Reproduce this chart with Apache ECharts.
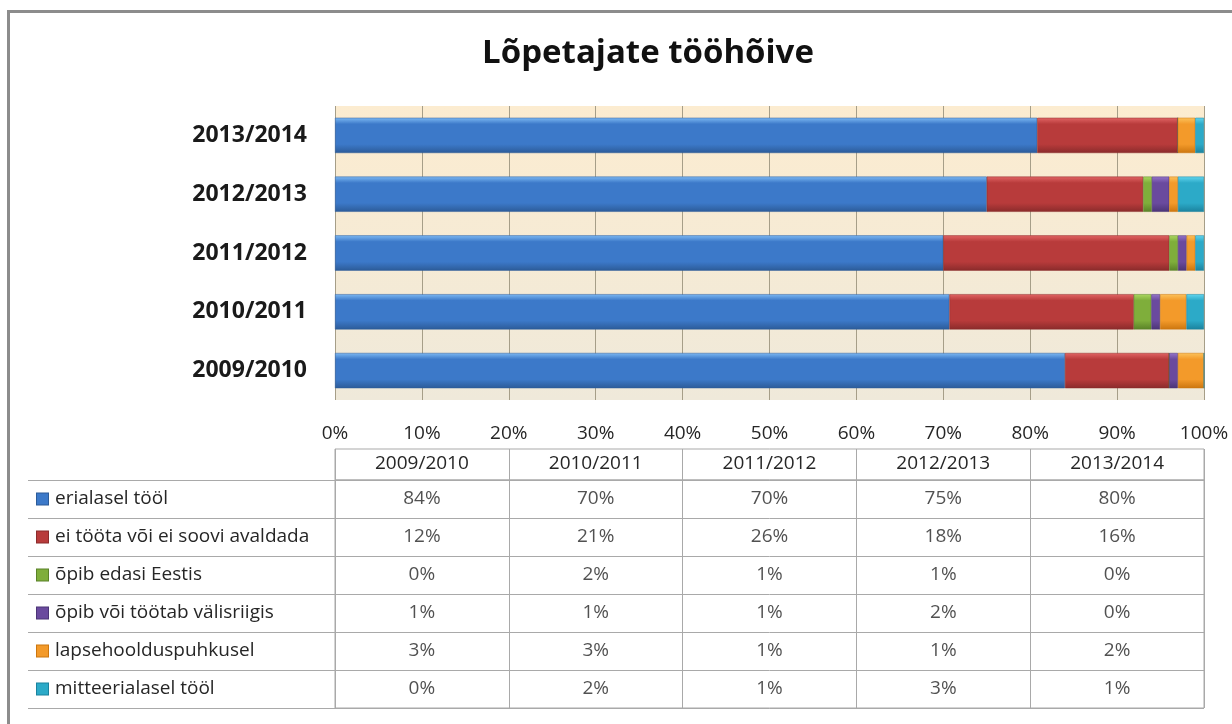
<!DOCTYPE html>
<html>
<head>
<meta charset="utf-8">
<script src="https://cdn.jsdelivr.net/npm/echarts@6/dist/echarts.min.js"></script>
<style>
  html, body { margin: 0; padding: 0; background: #fff; overflow: hidden; }
  #chart { width: 1232px; height: 724px; }
  #frame {
    position: absolute; left: 7px; top: 10px; width: 1300px; height: 800px;
    border-left: 3px solid #8c8c8c; border-top: 3px solid #8c8c8c;
    pointer-events: none;
  }
</style>
</head>
<body>
<div id="chart"></div>
<div id="frame"></div>
<script>
// aastad (kategooriad)
const years = ['2009/2010', '2010/2011', '2011/2012', '2012/2013', '2013/2014'];
const seriesNames = [
  'erialasel tööl',
  'ei tööta või ei soovi avaldada',
  'õpib edasi Eestis',
  'õpib või töötab välisriigis',
  'lapsehoolduspuhkusel',
  'mitteerialasel tööl'
];
// väärtused tabelist, %
const erialasel = [84, 70, 70, 75, 80];
const eiToota = [12, 21, 26, 18, 16];
const opibEestis = [0, 2, 1, 1, 0];
const valisriigis = [1, 1, 1, 2, 0];
const lapsehooldus = [3, 3, 1, 1, 2];
const mitteerialasel = [0, 2, 1, 3, 1];
const allValues = [erialasel, eiToota, opibEestis, valisriigis, lapsehooldus, mitteerialasel];

const tickLabels = ['0%', '10%', '20%', '30%', '40%', '50%', '60%', '70%', '80%', '90%', '100%'];

// värvid: [hele, põhi, tume]
const colors = [
  ['#7db9f3', '#3c79c9', '#2c5b98'],
  ['#e26565', '#b83b3b', '#8a2b2b'],
  ['#acd861', '#7fae3b', '#5a8228'],
  ['#9675ca', '#6a4a9e', '#4b3476'],
  ['#fcc35c', '#f39a2a', '#cc760f'],
  ['#62d6ef', '#2caac8', '#1b829e']
];

const FONT = '"Open Sans", sans-serif';
const lineGray = '#a9a9a9';
const textColor = '#262626';

// 100% virnastus
const totals = years.map((y, i) => allValues.reduce((s, arr) => s + arr[i], 0));

const barGradient = (c) => ({
  type: 'linear', x: 0, y: 0, x2: 0, y2: 1,
  colorStops: [
    { offset: 0, color: c[0] },
    { offset: 0.18, color: c[1] },
    { offset: 0.75, color: c[1] },
    { offset: 1, color: c[2] }
  ]
});

const barSeries = seriesNames.map((name, s) => ({
  name: name,
  type: 'bar',
  stack: 'total',
  xAxisIndex: 0,
  yAxisIndex: 0,
  barWidth: '60%',
  itemStyle: {
    color: barGradient(colors[s]),
    borderColor: colors[s][2],
    borderWidth: 0.5
  },
  data: allValues[s].map((v, i) => v / totals[i] * 100)
}));

const tableData = [];
allValues.forEach((arr, s) => {
  arr.forEach((v, i) => tableData.push([years[i], seriesNames[s], v]));
});

const rich = { t: { fontFamily: FONT, fontSize: 19, color: textColor, padding: [0, 0, 0, 7] } };
colors.forEach((c, i) => {
  rich['sq' + i] = { width: 11, height: 11, backgroundColor: c[1], borderColor: c[2], borderWidth: 1 };
});

const option = {
  backgroundColor: '#fff',
  animation: false,
  title: {
    text: 'Lõpetajate tööhõive',
    left: 648,
    top: 37,
    padding: 0,
    textAlign: 'center',
    textStyle: { fontFamily: FONT, fontSize: 33, fontWeight: 'bold', color: '#111' }
  },
  grid: [
    { // joonis
      left: 335, right: 28, top: 106, height: 294,
      show: true, borderWidth: 0,
      backgroundColor: {
        type: 'linear', x: 0, y: 0, x2: 0, y2: 1,
        colorStops: [
          { offset: 0, color: '#fcecd0' },
          { offset: 1, color: '#efe9da' }
        ]
      }
    },
    { // tabeli sisu
      left: 335, right: 28, top: 480, height: 228,
      show: true, borderColor: lineGray, borderWidth: 1
    },
    { // tabeli päis
      left: 335, right: 28, top: 449, height: 31,
      show: true, borderColor: lineGray, borderWidth: 1
    }
  ],
  xAxis: [
    {
      type: 'value', gridIndex: 0, min: 0, max: 100, interval: 10,
      axisLine: { show: false }, axisTick: { show: false },
      splitLine: { show: true, showMinLine: true, showMaxLine: true, lineStyle: { color: '#a69e88', width: 1 } },
      axisLabel: {
        margin: 24, fontFamily: FONT, fontSize: 19, color: textColor,
        formatter: (v) => tickLabels[Math.round(v / 10)]
      }
    },
    {
      type: 'category', gridIndex: 1, position: 'top', data: years,
      axisLine: { show: false }, axisTick: { show: false },
      splitLine: { show: true, lineStyle: { color: lineGray } },
      axisLabel: { margin: 7, fontFamily: FONT, fontSize: 19, color: textColor }
    },
    {
      type: 'category', gridIndex: 2, data: years,
      axisLine: { show: false }, axisTick: { show: false }, axisLabel: { show: false },
      splitLine: { show: true, lineStyle: { color: lineGray } }
    }
  ],
  yAxis: [
    {
      type: 'category', gridIndex: 0, data: years,
      axisLine: { show: false }, axisTick: { show: false },
      axisLabel: { margin: 28, fontFamily: FONT, fontSize: 23, fontWeight: 'bold', color: '#1a1a1a' }
    },
    {
      type: 'category', gridIndex: 1, data: seriesNames, inverse: true,
      axisLine: { show: false },
      axisTick: { show: true, length: 307, lineStyle: { color: lineGray } },
      splitLine: { show: true, lineStyle: { color: lineGray } },
      axisLabel: {
        margin: 298, align: 'left',
        formatter: (v, i) => '{sq' + i + '|}{t|' + v + '}',
        rich: rich
      }
    },
    {
      type: 'category', gridIndex: 1, data: seriesNames, inverse: true, offset: 307,
      axisLine: { show: true, lineStyle: { color: lineGray } },
      axisTick: { show: false }, axisLabel: { show: false }
    },
    {
      type: 'category', gridIndex: 2, data: ['päis'],
      axisLine: { show: false }, axisTick: { show: false }, axisLabel: { show: false }
    }
  ],
  series: barSeries.concat([{
    name: 'tabel',
    type: 'scatter',
    xAxisIndex: 1,
    yAxisIndex: 1,
    symbolSize: 1,
    itemStyle: { color: 'rgba(0,0,0,0)' },
    label: {
      show: true, position: 'inside',
      fontFamily: FONT, fontSize: 19, color: textColor,
      formatter: (p) => p.value[2] + '%'
    },
    data: tableData
  }])
};

const chart = echarts.init(document.getElementById('chart'));
chart.setOption(option);
</script>
</body>
</html>
